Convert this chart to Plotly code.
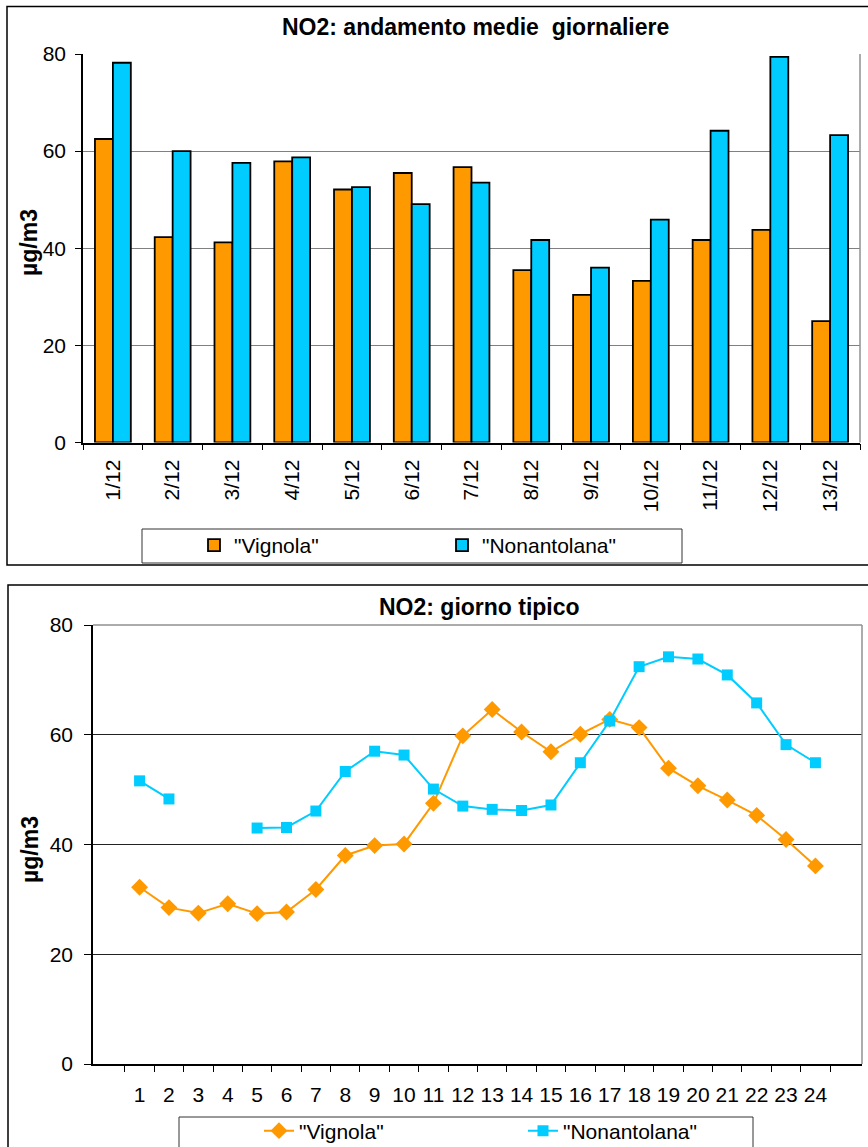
import plotly.graph_objects as go

W, H = 868, 1147

# ---- data: daily means (top chart) ----
days = ["1/12", "2/12", "3/12", "4/12", "5/12", "6/12", "7/12",
        "8/12", "9/12", "10/12", "11/12", "12/12", "13/12"]
vignola_daily = [62.5, 42.3, 41.2, 57.9, 52.1, 55.5, 56.7, 35.5, 30.4, 33.3, 41.7, 43.8, 25.0]
nonantolana_daily = [78.2, 60.0, 57.6, 58.7, 52.6, 49.1, 53.5, 41.7, 36.0, 45.9, 64.2, 79.4, 63.3]

# ---- data: typical day (bottom chart) ----
hours = [str(h) for h in range(1, 25)]
vignola_hourly = [32.2, 28.5, 27.5, 29.2, 27.4, 27.7, 31.8, 38.0, 39.8, 40.1, 47.5, 59.8,
                  64.6, 60.5, 56.9, 60.1, 62.8, 61.3, 53.9, 50.7, 48.1, 45.3, 40.9, 36.1]
nonantolana_hourly = [51.6, 48.3, None, None, 43.0, 43.1, 46.1, 53.3, 57.0, 56.3, 50.1, 47.0,
                      46.4, 46.2, 47.2, 54.9, 62.5, 72.4, 74.2, 73.8, 70.9, 65.8, 58.2, 54.9]

series_names = ['"Vignola"', '"Nonantolana"']
orange = "#FF9900"
cyan = "#00CCFF"
FONT = "Liberation Sans, Arial, sans-serif"
TICK_SIZE = 21
TITLE_SIZE = 23


def px(x):
    return x / W


def py(y):
    return 1 - y / H


fig = go.Figure()

fig.add_trace(go.Bar(x=days, y=vignola_daily, name=series_names[0], showlegend=True,
                     marker=dict(color=orange, line=dict(color="#000000", width=1.8)),
                     xaxis="x", yaxis="y", legend="legend"))
fig.add_trace(go.Bar(x=days, y=nonantolana_daily, name=series_names[1], showlegend=True,
                     marker=dict(color=cyan, line=dict(color="#000000", width=1.8)),
                     xaxis="x", yaxis="y", legend="legend2"))

fig.add_trace(go.Scatter(x=hours, y=vignola_hourly, name=series_names[0], mode="lines+markers",
                         showlegend=True,
                         line=dict(color=orange, width=2),
                         marker=dict(symbol="diamond", size=13, color=orange),
                         xaxis="x2", yaxis="y2", legend="legend3"))
fig.add_trace(go.Scatter(x=hours, y=nonantolana_hourly, name=series_names[1], mode="lines+markers",
                         showlegend=True,
                         line=dict(color=cyan, width=2),
                         marker=dict(symbol="square", size=11, color=cyan),
                         connectgaps=False,
                         xaxis="x2", yaxis="y2", legend="legend4"))

tickfont = dict(family=FONT, size=TICK_SIZE, color="#000000")
legfont = dict(family=FONT, size=TICK_SIZE, color="#000000")

# plot areas (pixels)
T_L, T_R, T_T, T_B = 83, 860, 54, 442.5
B_L, B_R, B_T, B_B = 93, 862, 625, 1064

fig.update_layout(
    width=W, height=H,
    margin=dict(l=0, r=0, t=0, b=0, pad=0, autoexpand=False),
    paper_bgcolor="white", plot_bgcolor="white",
    showlegend=True,
    font=dict(family=FONT, size=TICK_SIZE, color="#000000"),
    barmode="group", bargap=0.4, bargroupgap=0.0,
    xaxis=dict(domain=[px(T_L), px(T_R)], anchor="y", type="category", automargin=False,
               showgrid=False, showline=True, linecolor="#000000", linewidth=1.5,
               ticks="outside", ticklen=6, tickcolor="#000000", tickson="boundaries",
               tickangle=-90, tickfont=tickfont, ticklabelstandoff=7),
    yaxis=dict(domain=[py(T_B), py(T_T)], anchor="x", range=[0, 80], automargin=False,
               tickvals=[0, 20, 40, 60, 80], showgrid=True, gridcolor="#808080", gridwidth=1,
               zeroline=False, showline=True, linecolor="#000000", linewidth=1.5,
               ticks="outside", ticklen=6, tickcolor="#000000",
               tickfont=tickfont, ticklabelstandoff=5),
    xaxis2=dict(domain=[px(B_L), px(B_R)], anchor="y2", type="category", automargin=False,
                showgrid=False, showline=True, linecolor="#000000", linewidth=1.5,
                ticks="outside", ticklen=6, tickcolor="#000000", tickson="boundaries",
                tickangle=0, tickfont=tickfont, ticklabelstandoff=11),
    yaxis2=dict(domain=[py(B_B), py(B_T)], anchor="x2", range=[0, 80], automargin=False,
                tickvals=[0, 20, 40, 60, 80], showgrid=True, gridcolor="#222222", gridwidth=1,
                zeroline=False, showline=True, linecolor="#000000", linewidth=1.5,
                ticks="outside", ticklen=7, tickcolor="#000000",
                tickfont=tickfont, ticklabelstandoff=7),
    legend=dict(x=px(194), y=py(545.5), xanchor="left", yanchor="middle",
                orientation="h", bgcolor="rgba(0,0,0,0)", borderwidth=0, font=legfont),
    legend2=dict(x=px(442), y=py(545.5), xanchor="left", yanchor="middle",
                 orientation="h", bgcolor="rgba(0,0,0,0)", borderwidth=0, font=legfont),
    legend3=dict(x=px(259), y=py(1131), xanchor="left", yanchor="middle",
                 orientation="h", bgcolor="rgba(0,0,0,0)", borderwidth=0, font=legfont),
    legend4=dict(x=px(523), y=py(1131), xanchor="left", yanchor="middle",
                 orientation="h", bgcolor="rgba(0,0,0,0)", borderwidth=0, font=legfont),
)

shapes = [
    # outer chart borders
    dict(type="rect", xref="paper", yref="paper", x0=px(7), x1=px(875), y0=py(565), y1=py(6.5),
         line=dict(color="#000000", width=1.5), layer="below"),
    dict(type="rect", xref="paper", yref="paper", x0=px(8), x1=px(875), y0=py(1160), y1=py(585),
         line=dict(color="#000000", width=1.5), layer="below"),
    # legend boxes
    dict(type="rect", xref="paper", yref="paper", x0=px(142), x1=px(682), y0=py(563), y1=py(529),
         line=dict(color="#333333", width=1), layer="below"),
    dict(type="rect", xref="paper", yref="paper", x0=px(179), x1=px(753), y0=py(1160), y1=py(1117),
         line=dict(color="#333333", width=1), layer="below"),
    # plot-area right / top borders in grey
    dict(type="line", xref="paper", yref="paper", x0=px(T_R), x1=px(T_R), y0=py(T_B), y1=py(T_T),
         line=dict(color="#909090", width=1.5)),
    dict(type="line", xref="paper", yref="paper", x0=px(B_R), x1=px(B_R), y0=py(B_B), y1=py(B_T),
         line=dict(color="#909090", width=1.5)),
    dict(type="line", xref="paper", yref="paper", x0=px(B_L), x1=px(B_R), y0=py(B_T), y1=py(B_T),
         line=dict(color="#909090", width=1.5)),
]
fig.update_layout(shapes=shapes)

annotations = [
    dict(text="<b>NO2: andamento medie  giornaliere</b>", xref="paper", yref="paper",
         x=px(476), y=py(27), xanchor="center", yanchor="middle", showarrow=False,
         font=dict(family=FONT, size=TITLE_SIZE, color="#000000")),
    dict(text="<b>NO2: giorno tipico</b>", xref="paper", yref="paper",
         x=px(479), y=py(607), xanchor="center", yanchor="middle", showarrow=False,
         font=dict(family=FONT, size=TITLE_SIZE, color="#000000")),
    dict(text="<b>µg/m3</b>", xref="paper", yref="paper", textangle=-90,
         x=px(29), y=py(243), xanchor="center", yanchor="middle", showarrow=False,
         font=dict(family=FONT, size=TITLE_SIZE, color="#000000")),
    dict(text="<b>µg/m3</b>", xref="paper", yref="paper", textangle=-90,
         x=px(30), y=py(850), xanchor="center", yanchor="middle", showarrow=False,
         font=dict(family=FONT, size=TITLE_SIZE, color="#000000")),
]
fig.update_layout(annotations=annotations)

fig.write_html("out.html")
